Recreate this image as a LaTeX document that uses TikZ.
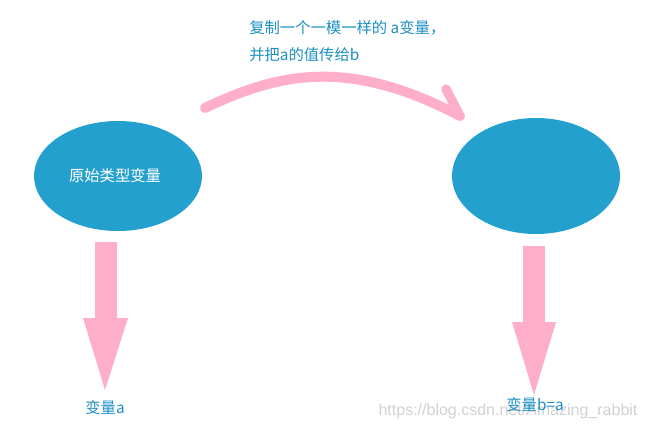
\documentclass[tikz,border=0pt]{standalone}
\usepackage{fontspec}
\setmainfont{Noto Sans CJK SC}
\newfontfamily\wmfont{Liberation Sans}
\begin{document}
\begin{tikzpicture}[x=0.75pt,y=-0.75pt,
  lbl/.style={text=txtblue,font=\fontsize{11.5}{13}\selectfont,inner sep=0pt}]
\definecolor{ellblue}{HTML}{24A0CE}
\definecolor{txtblue}{HTML}{1B8FC2}
\definecolor{pinkc}{HTML}{FFAEC9}
\useasboundingbox (0,0) rectangle (645,429);
\fill[ellblue] (118,176) ellipse [x radius=84, y radius=55];
\node[inner sep=0pt,text=white,font=\fontsize{11.5}{13}\selectfont] (a) at (115,176) {原始类型变量};
\fill[ellblue] (536,176) ellipse [x radius=84, y radius=58];
\coordinate (b) at (536,176);
\node[lbl,anchor=west] (t1) at (249,28) {复制一个一模一样的 a变量，};
\node[lbl,anchor=west] (t2) at (249,55) {并把a的值传给b};
\coordinate (s) at (205,108);
\coordinate (e) at (460,116);
\coordinate (h) at (446,89);
\draw[pinkc,line width=7.5pt,line cap=round] (s) .. controls (280,72) and (350,58) .. (e);
\draw[pinkc,line width=7pt,line cap=round] (h) -- (e);
\fill[pinkc] (95,242) rectangle (117,318);
\fill[pinkc] (83,318) -- (128,318) -- (105,390) -- cycle;
\fill[pinkc] (523,246) rectangle (545,322);
\fill[pinkc] (512,322) -- (556,322) -- (534,395) -- cycle;
\node[text=black!18,font=\fontsize{12}{13}\selectfont\wmfont,inner sep=0pt] (w) at (508,411) {https://blog.csdn.net/Amazing\_rabbit};
\node[lbl] (la) at (105,408) {变量a};
\node[lbl] (lb) at (535,405) {变量b=a};
\end{tikzpicture}
\end{document}
